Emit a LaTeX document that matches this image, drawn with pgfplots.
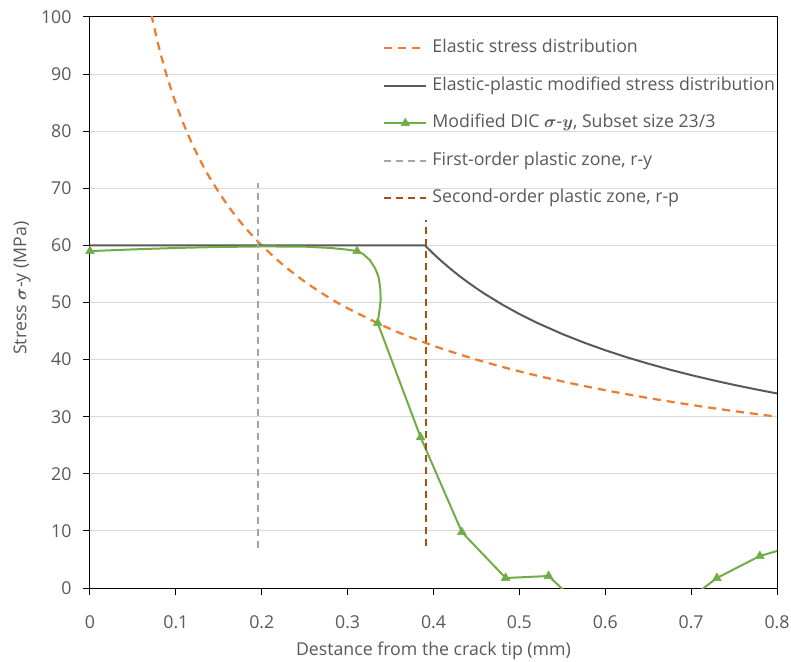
\documentclass[border=0pt]{standalone}
\usepackage{pgfplots}
\pgfplotsset{compat=1.18}
\usepackage{bm}
\usepackage{fontspec}
\setmainfont{Open Sans}
\definecolor{elastic}{HTML}{ED7D31}
\definecolor{modgray}{HTML}{595959}
\definecolor{dicgreen}{HTML}{70AD47}
\definecolor{zone1}{HTML}{A5A5A5}
\definecolor{zone2}{HTML}{A94F14}
\definecolor{txt}{HTML}{595959}
\definecolor{gridc}{HTML}{D9D9D9}
\begin{document}
\begin{tikzpicture}
\begin{axis}[
    name=ax,
    scale only axis,
    width=687bp, height=571bp,
    xmin=0, xmax=0.8, ymin=0, ymax=100,
    xtick={0,0.1,0.2,0.3,0.4,0.5,0.6,0.7,0.8},
    ytick={0,10,20,30,40,50,60,70,80,90,100},
    xtick pos=bottom, ytick pos=left,
    tick align=outside, major tick length=7bp,
    ymajorgrids,
    grid style={draw=gridc, line width=1bp},
    axis line style={black, line width=1bp},
    tick style={black, line width=1bp},
    /pgf/number format/assume math mode=true,
    font=\fontsize{17.8}{21}\selectfont\color{txt},
    xticklabel style={anchor=center, yshift=-27bp},
    yticklabel style={anchor=east, xshift=-8bp},
    xlabel={Destance from the crack tip (mm)},
    ylabel={Stress $\bm{\sigma}$-y (MPa)},
    every axis x label/.style={at={(axis description cs:0.5,0)}, anchor=center, yshift=-63bp},
    every axis y label/.style={at={(axis description cs:-0.099,0.525)}, rotate=90, anchor=center},
    legend cell align=left,
    legend style={at={(axis description cs:0.4265,0.9606)}, anchor=north west,
        draw=none, fill=none, inner sep=0pt, column sep=5bp, row sep=20.5bp,
        nodes={inner sep=0pt, text height=13bp, text depth=4bp},
        font=\fontsize{17.8}{21}\selectfont\color{txt}},
    legend image code/.code={\draw[mark repeat=2,mark phase=2] plot coordinates {(0bp,0bp) (21bp,0bp) (42bp,0bp)};},
]
% elastic stress distribution
\addplot[elastic, line width=2.25bp, dash pattern=on 8bp off 6bp, smooth] coordinates {
    (0.065,105.2) (0.07,101.41) (0.08,94.86) (0.09,89.43) (0.10,84.85) (0.11,80.90)
    (0.12,77.45) (0.13,74.41) (0.14,71.71) (0.16,67.08) (0.18,63.24) (0.20,60.00)
    (0.225,56.56) (0.25,53.66) (0.275,51.16) (0.30,48.99) (0.35,45.35) (0.40,42.42)
    (0.45,40.00) (0.50,37.94) (0.55,36.18) (0.60,34.64) (0.65,33.28) (0.70,32.07)
    (0.75,30.98) (0.80,30.00)};
\addlegendentry{Elastic stress distribution}
% elastic-plastic modified
\addplot[modgray, line width=2bp] coordinates {
    (0,60) (0.39,60) (0.395,59.26) (0.40,58.52) (0.405,57.83) (0.41,57.15) (0.42,55.87)
    (0.43,54.66) (0.44,53.54) (0.45,52.48) (0.46,51.48) (0.48,49.64) (0.50,47.98)
    (0.52,46.48) (0.55,44.48) (0.575,42.99) (0.60,41.64) (0.625,40.41) (0.65,39.29)
    (0.675,38.25) (0.70,37.29) (0.725,36.40) (0.75,35.57) (0.775,34.80) (0.80,34.07)};
\addlegendentry{Elastic-plastic modified stress distribution}
% DIC line
\addplot[dicgreen, line width=2bp, forget plot] coordinates {
    (0,59.0) (0.05,59.3) (0.10,59.55) (0.15,59.72) (0.20,59.82) (0.25,59.78)
    (0.28,59.55) (0.30,59.25) (0.311,59.0) (0.318,58.5) (0.326,57.4) (0.332,56.0)
    (0.336,54.5) (0.338,52.5) (0.3385,50.5) (0.337,48.5) (0.335,46.4)
    (0.385,26.4) (0.433,9.8) (0.484,1.75) (0.534,2.1) (0.583,-4.8) (0.633,-6.0)
    (0.683,-3.6) (0.730,1.75) (0.780,5.6) (0.83,7.8)};
% DIC measured points
\addplot[dicgreen, only marks, mark=triangle*, mark size=5bp,
    mark options={solid, fill=dicgreen, line width=0.5bp},
    legend image code/.code={
        \draw[dicgreen, line width=2bp] (0bp,0bp) -- (42bp,0bp);
        \draw[dicgreen, fill=dicgreen, line width=0.5bp] plot[mark=triangle*, mark size=5bp, only marks] coordinates {(21bp,0bp)};
    }] coordinates {
    (0,59.0) (0.311,59.0) (0.335,46.4) (0.385,26.4) (0.433,9.8) (0.484,1.75)
    (0.534,2.1) (0.730,1.75) (0.780,5.6)};
\addlegendentry{Modified DIC $\bm{\sigma}$-$\bm{y}$, Subset size 23/3}
% plastic zones
\addplot[zone1, line width=2bp, dash pattern=on 7bp off 5bp] coordinates {(0.1956,7.0) (0.1956,70.9)};
\addlegendentry{First-order plastic zone, r-y}
\addplot[zone2, line width=2bp, dash pattern=on 7bp off 5bp] coordinates {(0.391,7.3) (0.391,64.4)};
\addlegendentry{Second-order plastic zone, r-p}
\end{axis}
\pgfresetboundingbox
\path[use as bounding box] ([xshift=-90bp,yshift=-74bp]ax.south west) rectangle ([xshift=14bp,yshift=17bp]ax.north east);
\end{tikzpicture}
\end{document}
